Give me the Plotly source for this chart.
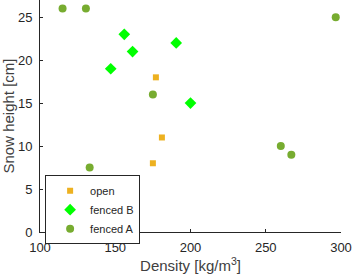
import plotly.graph_objects as go

open_x = [175, 177, 181]
open_y = [8, 18, 11]
fencedB_x = [156, 161.5, 147, 190.5, 200]
fencedB_y = [23, 21, 19, 22, 15]
fencedA_x = [115, 130.5, 296.5, 175, 133, 260, 267]
fencedA_y = [26, 26, 25, 16, 7.5, 10, 9]

x_ticks = [100, 150, 200, 250, 300]
y_ticks = [0, 5, 10, 15, 20, 25]

fig = go.Figure()
fig.add_trace(go.Scatter(x=open_x, y=open_y, mode="markers", name="open",
                         marker=dict(symbol="square", size=6, color="#EDB120")))
fig.add_trace(go.Scatter(x=fencedB_x, y=fencedB_y, mode="markers", name="fenced B",
                         marker=dict(symbol="diamond", size=9, color="#00FF00")))
fig.add_trace(go.Scatter(x=fencedA_x, y=fencedA_y, mode="markers", name="fenced A",
                         marker=dict(symbol="circle", size=8, color="#77AC30")))

axis_common = dict(showgrid=False, zeroline=False, showline=True, linecolor="#262626",
                   linewidth=1, ticks="inside", ticklen=3, tickcolor="#262626",
                   automargin=False,
                   tickfont=dict(family="Liberation Sans, Arial", size=13, color="#262626"))

fig.update_layout(
    width=352, height=279,
    margin=dict(l=40, r=11, t=0, b=47),
    plot_bgcolor="white", paper_bgcolor="white",
    font=dict(family="Liberation Sans, Arial", size=13, color="#262626"),
    xaxis=dict(range=[100, 300], tickvals=x_ticks, ticklabelstandoff=3,
               title=dict(text="Density [kg/m<sup>3</sup>]", standoff=6,
                          font=dict(size=15, color="#404040")), **axis_common),
    yaxis=dict(range=[0, 27], tickvals=y_ticks, ticklabelstandoff=4,
               title=dict(text="Snow height [cm]", standoff=8,
                          font=dict(size=15, color="#404040")), **axis_common),
    legend=dict(x=0.017, y=0.245, xanchor="left", yanchor="top",
                bordercolor="#262626", borderwidth=1, bgcolor="white",
                font=dict(size=11, color="#262626"), tracegroupgap=0,
                itemsizing="trace", indentation=4),
    showlegend=True,
)

fig.write_html("out.html", config={"displayModeBar": False},
               post_script="document.body.style.margin='0';document.body.style.overflow='hidden';")
